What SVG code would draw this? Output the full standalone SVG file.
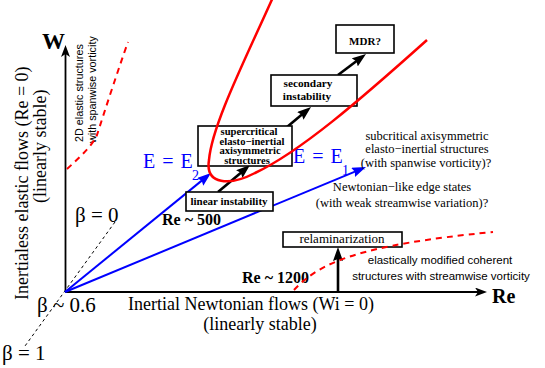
<svg xmlns="http://www.w3.org/2000/svg" width="545" height="368" viewBox="0 0 545 368">
<style>
.serif{font-family:"Liberation Serif","Times New Roman",serif;fill:#000}
.sans{font-family:"Liberation Sans",Arial,sans-serif;fill:#000}
.bold{font-weight:bold}
.mid{text-anchor:middle}
.box{fill:#fff;stroke:#000;stroke-width:1.6}
.axis{stroke:#000;stroke-width:1.8;fill:none}
.blue{stroke:#0000ff;stroke-width:2;fill:none}
.barrow{stroke:#000;stroke-width:2.6;fill:none}
.red{stroke:#ff0000;stroke-width:2.5;fill:none}
.reddash{stroke:#ff0000;stroke-width:2;fill:none;stroke-dasharray:6 5}
.bdash{stroke:#000;stroke-width:1;fill:none;stroke-dasharray:3 3}
.eq{font-family:"Liberation Serif","Times New Roman",serif;fill:#0000ff}
</style>
<defs>
<marker id="axh" viewBox="0 0 12 9" refX="4" refY="4.5" markerWidth="12" markerHeight="9" orient="auto" markerUnits="userSpaceOnUse"><path d="M0,0 L12,4.5 L0,9 L3,4.5 z" fill="#000"/></marker>
<marker id="bh" viewBox="0 0 14 10" refX="6" refY="5" markerWidth="14" markerHeight="10" orient="auto" markerUnits="userSpaceOnUse"><path d="M0,0 L14,5 L0,10 L2,5 z" fill="#000"/></marker>
<marker id="uh" viewBox="0 0 14 10" refX="6" refY="5" markerWidth="14" markerHeight="10" orient="auto" markerUnits="userSpaceOnUse"><path d="M0,0 L14,5 L0,10 L2,5 z" fill="#0000ff"/></marker>
</defs>
<rect width="545" height="368" fill="#fff"/>

<g id="axes">
<line class="axis" x1="65.5" y1="292" x2="65.5" y2="53" marker-end="url(#axh)"/>
<line class="axis" x1="65" y1="292" x2="479" y2="292" marker-end="url(#axh)"/>
<text class="serif bold" x="42" y="49" font-size="23">W</text>
<text class="serif bold" x="492" y="303" font-size="20">Re</text>
<text class="serif" font-size="18" transform="translate(28,300) rotate(-90)">Inertialess elastic flows (Re = 0)</text>
<text class="serif" font-size="18" transform="translate(46,203) rotate(-90)">(linearly stable)</text>
<text class="serif mid" x="251" y="309.5" font-size="18">Inertial Newtonian flows (Wi = 0)</text>
<text class="serif mid" x="260" y="329.5" font-size="18">(linearly stable)</text>
</g>

<g id="beta">
<line class="bdash" x1="115" y1="222" x2="25" y2="346"/>
<text class="serif" x="75" y="222" font-size="21">β = 0</text>
<text class="serif" x="37" y="312" font-size="21">β ~ 0.6</text>
<text class="serif" x="2" y="360" font-size="21">β = 1</text>
</g>

<g id="connectors">
<line class="blue" x1="65" y1="292" x2="204.8" y2="178.1" marker-end="url(#uh)"/>
<line class="blue" x1="65" y1="292" x2="358.6" y2="170.1" marker-end="url(#uh)"/>
<line class="barrow" x1="218" y1="192" x2="243.9" y2="170.2" marker-end="url(#bh)"/>
<line class="barrow" x1="287" y1="127" x2="304.9" y2="112.1" marker-end="url(#bh)"/>
<line class="barrow" x1="338" y1="75" x2="359.6" y2="58.8" marker-end="url(#bh)"/>
<line class="barrow" x1="338" y1="292" x2="338" y2="255" marker-end="url(#bh)"/>
</g>

<g id="E2">
<text class="eq" x="143" y="168" font-size="20" word-spacing="2">E = E</text>
<text class="eq" x="192" y="180" font-size="14">2</text>
</g>
<g id="E1">
<text class="eq" x="293" y="163" font-size="20" word-spacing="2">E = E</text>
<text class="eq" x="342" y="175" font-size="14">1</text>
</g>

<g id="mdr">
<rect class="box" x="336" y="25" width="58" height="28"/>
<text class="serif bold mid" x="365" y="44.5" font-size="11">MDR?</text>
</g>
<g id="secondary">
<rect class="box" x="271" y="75" width="86" height="31"/>
<text class="serif bold mid" x="308" y="87" font-size="11.3">secondary</text>
<text class="serif bold mid" x="307" y="100" font-size="11.3">instability</text>
</g>
<g id="supercritical">
<rect class="box" x="198" y="126" width="94" height="40"/>
<text class="serif bold mid" x="249" y="135" font-size="10.6">supercritical</text>
<text class="serif bold mid" x="252" y="144.7" font-size="10.6">elasto−inertial</text>
<text class="serif bold mid" x="250" y="154.4" font-size="10.6">axisymmetric</text>
<text class="serif bold mid" x="247" y="164" font-size="10.6">structures</text>
</g>
<g id="linear">
<rect class="box" x="186" y="192" width="87" height="19"/>
<text class="serif bold mid" x="229" y="205" font-size="11">linear instability</text>
</g>
<g id="relam">
<rect class="box" x="283" y="232" width="119" height="15"/>
<text class="serif mid" x="342" y="243" font-size="13">relaminarization</text>
</g>

<g id="labels">
<text class="serif bold" x="162" y="225" font-size="16">Re ~ 500</text>
<text class="serif bold" x="242" y="283" font-size="16">Re ~ 1200</text>
<text class="serif mid" x="427" y="139.5" font-size="12.5">subcritical axisymmetric</text>
<text class="serif mid" x="427" y="153.3" font-size="12.5">elasto−inertial structures</text>
<text class="serif mid" x="426" y="167.1" font-size="12.5">(with spanwise vorticity)?</text>
<text class="serif mid" x="402" y="191" font-size="12.5">Newtonian−like edge states</text>
<text class="serif mid" x="402" y="207" font-size="12.5">(with weak streamwise variation)?</text>
<text class="sans mid" x="440" y="264" font-size="11.5">elastically modified coherent</text>
<text class="sans mid" x="441" y="280" font-size="11.5">structures with streamwise vorticity</text>
<text class="sans" font-size="10.8" transform="translate(83,142) rotate(-90)">2D elastic structures</text>
<text class="sans" font-size="10.8" transform="translate(96,143) rotate(-90)">with spanwise vorticity</text>
</g>

<g id="curves">
<path class="red" d="M274,-5 C245,60 212,125 209,160 C205,185 230,186 255,173 C300,152 360,100 427,40"/>
<path class="reddash" d="M67,169 C80,157 92,146 97,135 C105,110 118,70 128,42"/>
<path class="reddash" d="M294,290 C320,262 360,245 493,232"/>
</g>
</svg>
